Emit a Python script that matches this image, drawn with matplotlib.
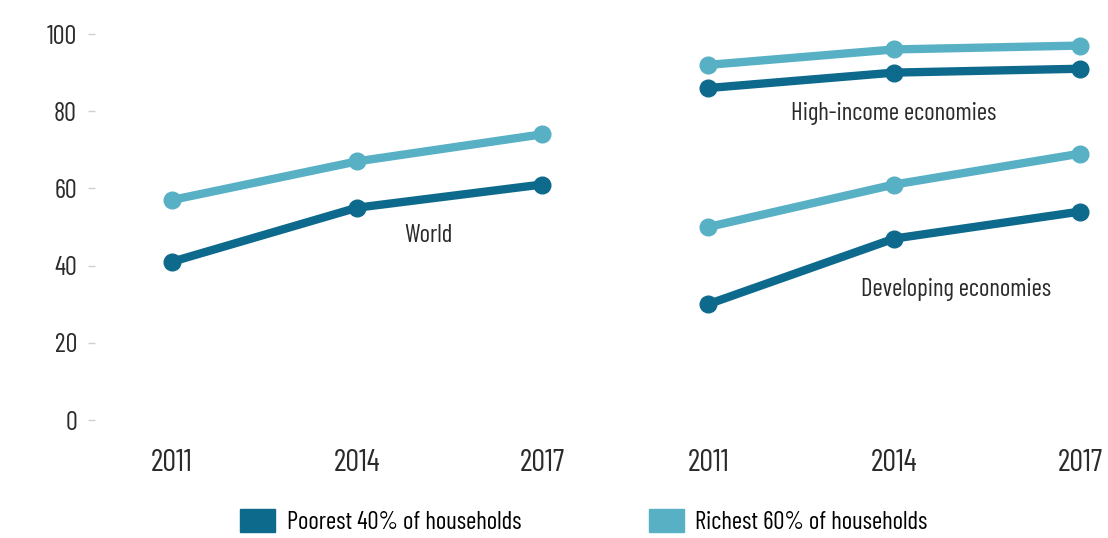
import matplotlib.pyplot as plt
from matplotlib.patches import Patch

plt.rcParams['font.family'] = ['Barlow Condensed', 'DejaVu Sans']

years = [2011, 2014, 2017]
year_labels = ['2011', '2014', '2017']

# account ownership, % of adults
world_poor = [41, 55, 61]
world_rich = [57, 67, 74]
high_poor = [86, 90, 91]
high_rich = [92, 96, 97]
dev_poor = [30, 47, 54]
dev_rich = [50, 61, 69]

yticks = [0, 20, 40, 60, 80, 100]

DARK = '#0d6a8c'
LIGHT = '#58b0c5'
TXT = '#2b2b2b'

fig = plt.figure(figsize=(11.08, 5.38), dpi=100)
fig.set_facecolor('white')

ax1 = fig.add_axes([95 / 1108, 118 / 538, 495 / 1108, 386 / 538])
ax2 = fig.add_axes([640 / 1108, 118 / 538, 460 / 1108, 386 / 538], sharey=ax1)


def draw(ax, poor, rich):
    ax.plot(years, rich, color=LIGHT, lw=6, marker='o', ms=12, clip_on=False)
    ax.plot(years, poor, color=DARK, lw=6, marker='o', ms=12, clip_on=False)
    ax.set_xticks(years)
    ax.set_xticklabels(year_labels, fontsize=22, color=TXT)
    for s in ax.spines.values():
        s.set_visible(False)
    ax.tick_params(axis='x', length=0, pad=21)


draw(ax1, world_poor, world_rich)
draw(ax2, dev_poor, dev_rich)
ax2.plot(years, high_rich, color=LIGHT, lw=6, marker='o', ms=12, clip_on=False)
ax2.plot(years, high_poor, color=DARK, lw=6, marker='o', ms=12, clip_on=False)

ax1.set_xlim(2009.75, 2017.78)
ax2.set_xlim(2009.9, 2017.32)
ax1.set_ylim(0, 100)
ax1.set_yticks(yticks)
ax1.set_yticklabels([str(v) for v in yticks], fontsize=19, color=TXT)
ax1.tick_params(axis='y', length=5, width=1, color='#d0d0d0', pad=8)
ax2.tick_params(axis='y', left=False, labelleft=False)

ax1.text(2015.15, 47.7, 'World', fontsize=18, ha='center', va='center', color=TXT)
ax2.text(2014.0, 79.3, 'High-income economies', fontsize=18, ha='center', va='center', color=TXT)
ax2.text(2015.0, 33.7, 'Developing economies', fontsize=18, ha='center', va='center', color=TXT)

handles = [Patch(color=DARK, label='Poorest 40% of households'),
           Patch(color=LIGHT, label='Richest 60% of households')]
fig.legend(handles=handles, loc='center', bbox_to_anchor=(0.527, 0.03), ncol=2,
           frameon=False, fontsize=18, handlelength=1.4, handleheight=1.0,
           columnspacing=5.1, handletextpad=0.45)

plt.savefig('out.png', dpi=100, facecolor='white')
